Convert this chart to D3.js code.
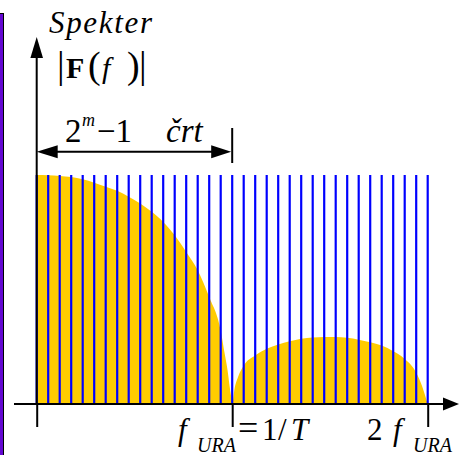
<!DOCTYPE html>
<html>
<head>
<meta charset="utf-8">
<script src="https://cdn.jsdelivr.net/npm/d3@7"></script>
<style>
  body { margin: 0; background: #fff; }
  svg { display: block; }
</style>
</head>
<body>
<div class="spectrum-chart"></div>
<script>
// spectral lines: index of each line, 0 .. 2*(2^m-1)
const lineIndex = d3.range(0, 35)
// tick positions (line index) for 0, f_URA, 2 f_URA
const tickIndex = [0, 17, 34]

// envelope |F(f)|, position in line units, amplitude (1 = top)
const envPos = [0, 1, 2, 3, 4, 5, 6, 7, 8, 9, 10, 11, 12, 13, 14, 15, 16, 16.3, 16.6, 16.77, 16.9, 17,
    17.2, 17.5, 18, 19, 20, 21, 22, 23, 24, 25, 26, 27, 28, 29, 30, 31, 32, 33, 33.5, 34]
const envAmp = [1.0, 0.999, 0.996, 0.991, 0.981, 0.966, 0.949, 0.931, 0.905, 0.876, 0.839, 0.795, 0.737, 0.664, 0.584, 0.467, 0.321, 0.233, 0.146, 0.08, 0.035, 0,
    0.066, 0.117, 0.168, 0.212, 0.241, 0.260, 0.274, 0.285, 0.290, 0.293, 0.293, 0.289, 0.281, 0.270, 0.255, 0.230, 0.197, 0.138, 0.080, 0]

const width = 464
const height = 455
const serif = "'Liberation Serif', 'DejaVu Serif', 'Times New Roman', Times, serif"

const svg = d3.select(".spectrum-chart").append("svg")
    .attr("width", width)
    .attr("height", height)
    .attr("viewBox", [0, 0, width, height])

const x = d3.scaleLinear().domain([0, 34]).range([36.7, 427.7])
const y = d3.scaleLinear().domain([0, 1]).range([404, 175])

// purple strip on the left edge
svg.append("rect")
    .attr("x", -1).attr("y", 13.5)
    .attr("width", 4.5).attr("height", 460)
    .attr("fill", "#6408d2")
    .attr("stroke", "#000")
    .attr("stroke-width", 1)

// yellow envelope
const envelope = envPos.map((p, i) => ({ p: p, a: envAmp[i] }))
const areaGen = d3.area()
    .x(d => x(d.p))
    .y0(y(0))
    .y1(d => y(d.a))
    .curve(d3.curveMonotoneX)

svg.append("path")
    .datum(envelope)
    .attr("d", areaGen)
    .attr("fill", "#ffcc00")

// blue spectral lines
svg.append("g")
    .selectAll("line")
    .data(lineIndex)
    .join("line")
    .attr("x1", d => x(d)).attr("x2", d => x(d))
    .attr("y1", y(0)).attr("y2", y(1))
    .attr("stroke", "#0000ff")
    .attr("stroke-width", 2.2)

// x axis: ticks from d3.axisBottom, arrowed line drawn by hand
const xAxis = svg.append("g")
    .attr("transform", `translate(0,${y(0)})`)
    .call(d3.axisBottom(x).tickValues(tickIndex).tickSize(23).tickFormat(""))
xAxis.select(".domain").remove()
xAxis.selectAll("line").attr("stroke", "#000").attr("stroke-width", 2)

svg.append("line")
    .attr("x1", 14).attr("x2", 446)
    .attr("y1", y(0)).attr("y2", y(0))
    .attr("stroke", "#000").attr("stroke-width", 2)
svg.append("path")
    .attr("d", `M459,${y(0)} L443,${y(0) - 6.5} L443,${y(0) + 6.5} Z`)
    .attr("fill", "#000")

// y axis with arrow
svg.append("line")
    .attr("x1", x(0)).attr("x2", x(0))
    .attr("y1", y(0)).attr("y2", 55)
    .attr("stroke", "#000").attr("stroke-width", 2)
svg.append("path")
    .attr("d", `M${x(0)},37 L${x(0) - 6.3},58 L${x(0) + 6.3},58 Z`)
    .attr("fill", "#000")

// bracket for 2^m - 1 lines
const by = 151.7
svg.append("line")
    .attr("x1", x(0) + 10).attr("x2", x(17) - 10)
    .attr("y1", by).attr("y2", by)
    .attr("stroke", "#000").attr("stroke-width", 2)
svg.append("path")
    .attr("d", `M${x(0)},${by} L${x(0) + 21},${by - 6.5} L${x(0) + 21},${by + 6.5} Z`)
    .attr("fill", "#000")
svg.append("path")
    .attr("d", `M${x(17) - 1},${by} L${x(17) - 21},${by - 6.5} L${x(17) - 21},${by + 6.5} Z`)
    .attr("fill", "#000")
svg.append("line")
    .attr("x1", x(17)).attr("x2", x(17))
    .attr("y1", 128).attr("y2", 163)
    .attr("stroke", "#000").attr("stroke-width", 2)

// texts
svg.append("text")
    .attr("x", 49).attr("y", 33)
    .attr("font-size", 31).attr("font-style", "italic")
    .attr("textLength", 103).attr("lengthAdjust", "spacing")
    .text("Spekter")

const fLabel = svg.append("text").attr("y", 78)
fLabel.append("tspan").attr("x", 57).attr("font-size", 38).text("|")
fLabel.append("tspan").attr("x", 66).attr("font-size", 30).attr("font-weight", "bold").text("F")
fLabel.append("tspan").attr("x", 88).attr("font-size", 38).text("(")
fLabel.append("tspan").attr("x", 102).attr("font-size", 30).attr("font-style", "italic").text("f")
fLabel.append("tspan").attr("x", 127).attr("font-size", 38).text(")")
fLabel.append("tspan").attr("x", 139).attr("font-size", 38).text("|")

const mLabel = svg.append("text").attr("y", 141.7)
mLabel.append("tspan").attr("x", 65).attr("font-size", 33).text("2")
mLabel.append("tspan").attr("x", 82).attr("y", 126).attr("font-size", 18).attr("font-style", "italic").text("m")
mLabel.append("tspan").attr("x", 97).attr("y", 141.7).attr("font-size", 33).text("\u22121")
mLabel.append("tspan").attr("x", 166).attr("font-size", 33).attr("font-style", "italic").text("črt")

// f_URA = 1/T
const l1 = svg.append("text").attr("y", 440)
l1.append("tspan").attr("x", 178).attr("font-size", 31).attr("font-style", "italic").text("f")
l1.append("tspan").attr("x", 197).attr("y", 452).attr("font-size", 20).attr("font-style", "italic").text("URA")
l1.append("tspan").attr("x", 238).attr("y", 440).attr("font-size", 36).text("=")
l1.append("tspan").attr("x", 262).attr("font-size", 31).text("1")
l1.append("tspan").attr("x", 278).attr("font-size", 31).text("/")
l1.append("tspan").attr("x", 291).attr("font-size", 31).attr("font-style", "italic").text("T")

// 2 f_URA
const l2 = svg.append("text").attr("y", 440)
l2.append("tspan").attr("x", 367).attr("font-size", 31).text("2")
l2.append("tspan").attr("x", 393).attr("font-size", 31).attr("font-style", "italic").text("f")
l2.append("tspan").attr("x", 413).attr("y", 452).attr("font-size", 20).attr("font-style", "italic").text("URA")

svg.selectAll("text").attr("font-family", serif).attr("fill", "#000")
</script>
</body>
</html>
